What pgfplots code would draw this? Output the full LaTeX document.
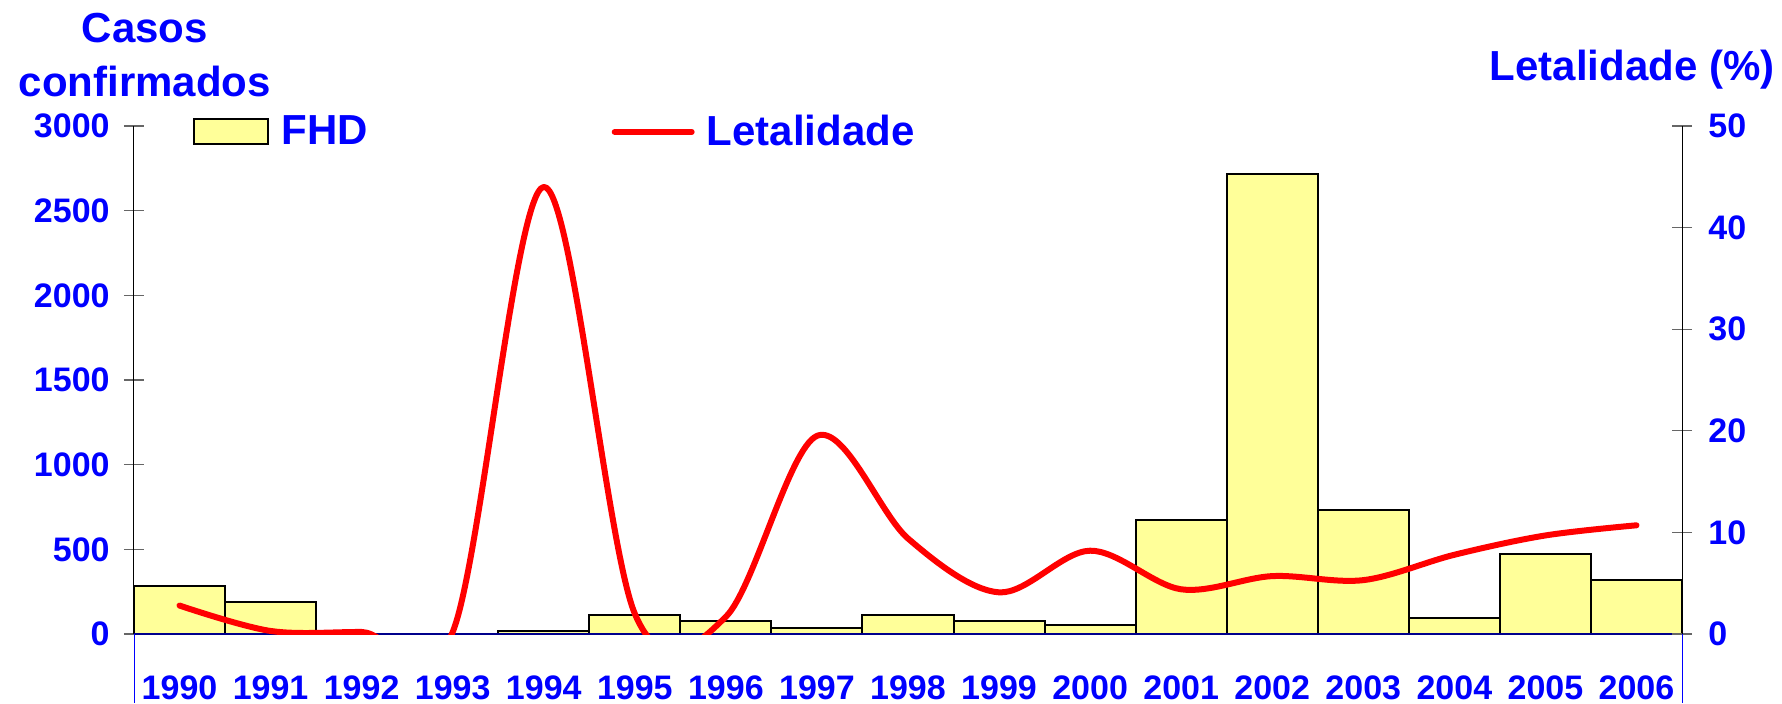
\documentclass[border=0pt]{standalone}
\usepackage{fontspec}
\setmainfont{Liberation Sans}
\usepackage{pgfplots}
\pgfplotsset{compat=1.18}
\definecolor{barfill}{RGB}{255,255,153}
\definecolor{zeroline}{RGB}{0,0,140}
\definecolor{txtblue}{RGB}{0,0,255}
\definecolor{linered}{RGB}{255,0,0}

\begin{document}
\begin{tikzpicture}
\path[use as bounding box] (-67pt,-34.5pt) rectangle (824pt,317pt);
\begin{axis}[
  at={(0pt,0pt)}, anchor=south west,
  scale only axis, width=774pt, height=254pt,
  xmin=-0.5, xmax=16.5, ymin=0, ymax=3000,
  axis y line*=left, axis x line*=bottom,
  x axis line style={zeroline, line width=1pt},
  y axis line style={black, line width=0.5pt},
  axis on top,
  xtick={0,...,16},
  xticklabels={1990,1991,1992,1993,1994,1995,1996,1997,1998,1999,2000,2001,2002,2003,2004,2005,2006},
  x tick style={draw=none},
  ytick={0,500,...,3000},
  yticklabels={0,500,1000,1500,2000,2500,3000},
  y tick style={black!60, line width=0.6pt},
  tick align=center, major tick length=10pt,
  tick label style={font=\bfseries\fontsize{17}{17}\selectfont, text=txtblue},
  xticklabel style={anchor=north, inner sep=0pt, yshift=-15.9pt},
  yticklabel style={anchor=east, inner sep=0pt, xshift=-7pt},
  ylabel={Casos\\confirmados},
  every axis y label/.style={at={(axis description cs:0.0071,1.1398)}, anchor=center, align=center,
     font=\bfseries\fontsize{21}{27}\selectfont, text=txtblue},
]
\addplot[ybar, bar width=1, fill=barfill, draw=black, line width=1pt] coordinates {
  (0,282) (1,187) (4,15) (5,112) (6,75) (7,35) (8,112) (9,75) (10,53)
  (11,675) (12,2718) (13,733) (14,96) (15,470) (16,321)
};
\end{axis}
\begin{axis}[
  at={(0pt,0pt)}, anchor=south west,
  scale only axis, width=774pt, height=254pt,
  xmin=-0.5, xmax=16.5, ymin=0, ymax=50,
  axis y line*=right, axis x line=none,
  y axis line style={black, line width=0.5pt},
  ytick={0,10,...,50},
  yticklabels={0,10,20,30,40,50},
  y tick style={black!60, line width=0.6pt},
  tick align=center, major tick length=10pt,
  tick label style={font=\bfseries\fontsize{17}{17}\selectfont, text=txtblue},
  yticklabel style={anchor=west, inner sep=0pt, xshift=8pt},
  ylabel={Letalidade (\%)},
  every axis y label/.style={at={(axis description cs:0.9677,1.1102)}, anchor=center,
     font=\bfseries\fontsize{21}{21}\selectfont, text=txtblue},
  legend columns=2,
  legend style={at={(axis description cs:0.0381,0.9882)}, anchor=west, draw=none, fill=none,
     inner sep=0pt, font=\bfseries\fontsize{21}{21}\selectfont, text=txtblue,
     /tikz/every even column/.append style={column sep=120pt},
     /tikz/every odd column/.append style={column sep=4pt},
     /tikz/column 3/.append style={column sep=0pt}},
]
\addlegendimage{legend image code/.code={\draw[draw=black, fill=barfill, line width=1pt] (0pt,-6.25pt) rectangle (37pt,6.25pt);}}
\addlegendentry{FHD}
\addplot[linered, line width=3pt, smooth, tension=0.55, line cap=round, line join=round,
  legend image code/.code={\draw[linered, line width=3pt] (0pt,0pt) -- (38.5pt,0pt);}] coordinates {
  (0,2.8) (1,0.3) (2,0.2) (3,0.2) (4,44.0) (5,2.0) (6,1.7) (7,19.5) (8,9.4) (9,4.1)
  (10,8.2) (11,4.4) (12,5.7) (13,5.3) (14,7.8) (15,9.7) (16,10.7)
};
\addlegendentry{Letalidade}
\end{axis}
\draw[txtblue, line width=0.5pt] (0pt,0pt) -- (0pt,-34.5pt);
\draw[txtblue, line width=0.5pt] (774pt,0pt) -- (774pt,-34.5pt);
\end{tikzpicture}
\end{document}
